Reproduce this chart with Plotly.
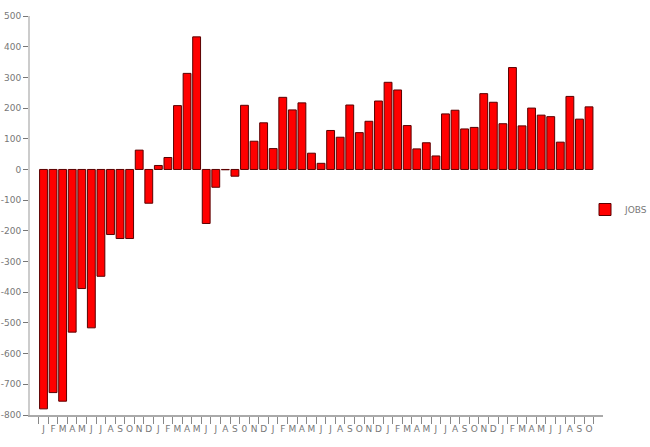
import plotly.graph_objects as go

years = [2009, 2010, 2011, 2012, 2013]

# monthly labels as shown on the axis (note the "0" in Oct 2010)
tick_labels = (
    ["J", "F", "M", "A", "M", "J", "J", "A", "S", "O", "N", "D"]
    + ["J", "F", "M", "A", "M", "J", "J", "A", "S", "0", "N", "D"]
    + ["J", "F", "M", "A", "M", "J", "J", "A", "S", "O", "N", "D"]
    + ["J", "F", "M", "A", "M", "J", "J", "A", "S", "O", "N", "D"]
    + ["J", "F", "M", "A", "M", "J", "J", "A", "S", "O"]
)

jobs_2009 = [-780, -727, -755, -530, -388, -516, -348, -212, -225, -225, 63, -110]
jobs_2010 = [13, 39, 208, 313, 432, -176, -58, -1, -22, 209, 92, 152]
jobs_2011 = [68, 235, 194, 217, 53, 20, 127, 105, 210, 120, 157, 223]
jobs_2012 = [284, 259, 143, 67, 87, 44, 181, 193, 132, 137, 247, 219]
jobs_2013 = [149, 332, 142, 200, 177, 172, 89, 238, 164, 204]

jobs = jobs_2009 + jobs_2010 + jobs_2011 + jobs_2012 + jobs_2013
periods = [f"{y}-{i+1:02d}" for y in years for i in range(12)][: len(jobs)]

y_ticks = [500, 400, 300, 200, 100, 0, -100, -200, -300, -400, -500, -600, -700, -800]
y_tick_text = [str(v) for v in y_ticks]

fig = go.Figure(
    go.Bar(
        x=periods,
        y=jobs,
        name="JOBS",
        marker=dict(color="#ff0000", line=dict(color="#5a0000", width=1)),
    )
)

font_family = "DejaVu Sans, Verdana, sans-serif"

fig.update_layout(
    width=650,
    height=447,
    margin=dict(l=30, r=47, t=16, b=32, autoexpand=False),
    paper_bgcolor="white",
    plot_bgcolor="white",
    bargap=0.18,
    font=dict(family=font_family, size=9, color="#777777"),
    showlegend=True,
    legend=dict(
        x=0.9686,
        xanchor="left",
        y=0.515,
        yanchor="middle",
        font=dict(size=9, color="#777777"),
        bgcolor="rgba(0,0,0,0)",
    ),
)

fig.update_xaxes(
    type="category",
    range=[-1.41, len(jobs) + 0.46],
    tickmode="array",
    tickvals=periods,
    ticktext=tick_labels,
    tickson="boundaries",
    ticks="outside",
    ticklen=7,
    ticklabelstandoff=4,
    tickcolor="#888888",
    showline=True,
    linecolor="#aaaaaa",
    linewidth=2,
    showgrid=False,
    tickangle=0,
    tickfont=dict(size=9, color="#777777"),
)

fig.update_yaxes(
    range=[-800, 500],
    tickmode="array",
    tickvals=y_ticks,
    ticktext=y_tick_text,
    ticks="outside",
    ticklen=5,
    tickcolor="#777777",
    showline=True,
    linecolor="#cccccc",
    linewidth=2,
    showgrid=False,
    zeroline=False,
    tickfont=dict(size=9, color="#777777"),
)

fig.write_html(
    "out.html",
    config={"displayModeBar": False},
    post_script="document.body.style.margin='0';document.body.style.overflow='hidden';",
)
